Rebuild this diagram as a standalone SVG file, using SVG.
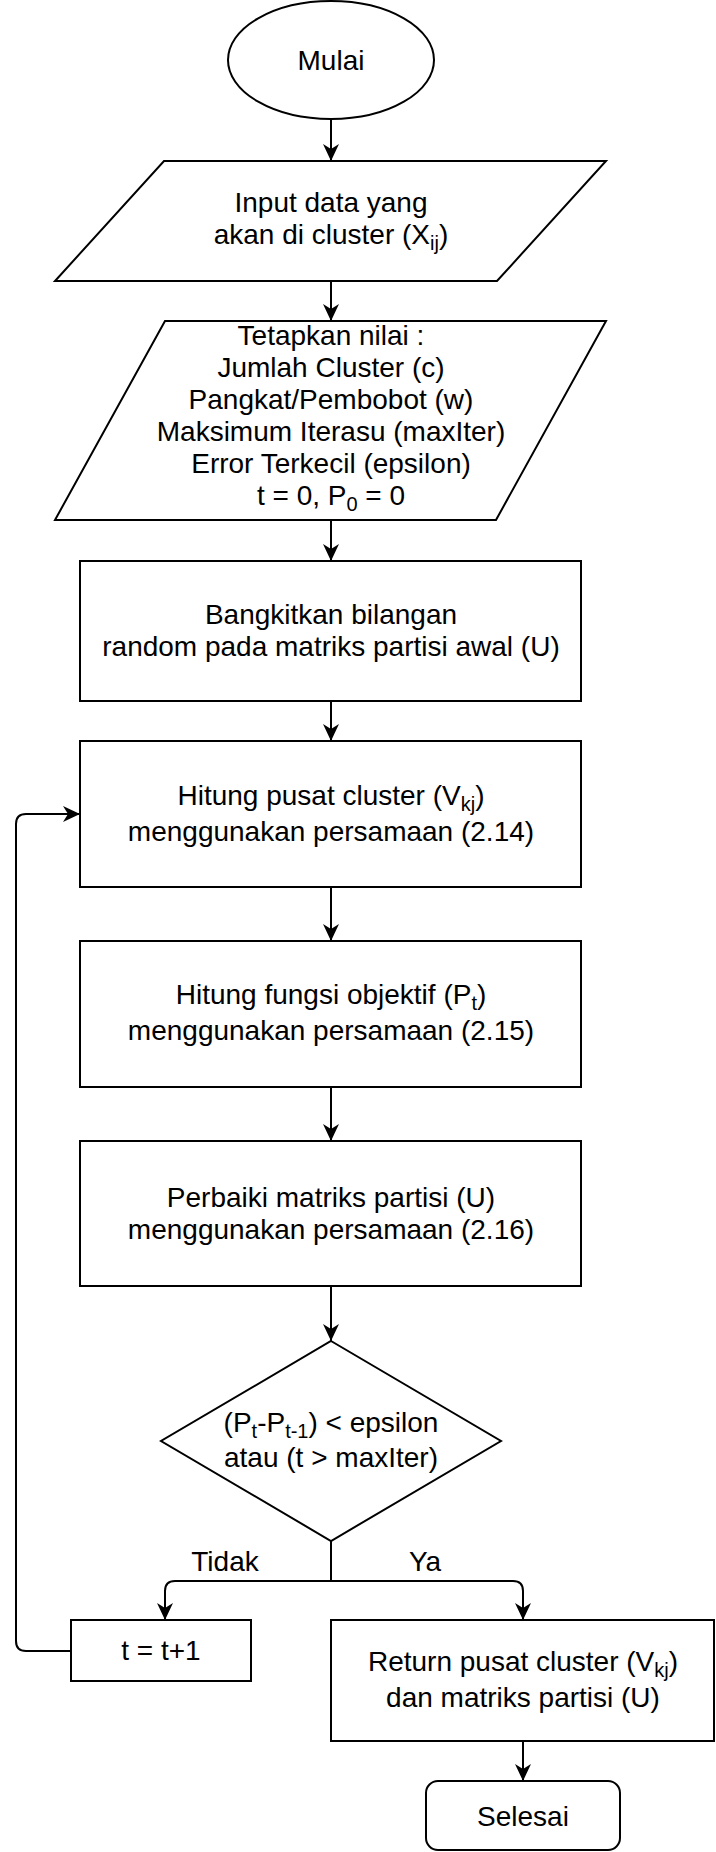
<svg xmlns="http://www.w3.org/2000/svg" width="716" height="1852" viewBox="0 0 716 1852">
<style>
.s{fill:#fff;stroke:#000;stroke-width:2}
.c{fill:none;stroke:#000;stroke-width:2}
text{font-family:"Liberation Sans",Arial,Helvetica,sans-serif;font-size:28px;fill:#000;text-anchor:middle}
.sub{font-size:20px}
</style>
<defs>
<marker id="arr" markerUnits="userSpaceOnUse" viewBox="0 0 17 16" refX="17" refY="8" markerWidth="17" markerHeight="16" orient="auto">
<path d="M0,0 L17,8 L0,16 L5,8 Z" fill="#000"/>
</marker>
</defs>
<rect width="716" height="1852" fill="#fff"/>
<g id="connectors">
<path class="c" d="M331,120 L331,161" marker-end="url(#arr)"/>
<path class="c" d="M331,281 L331,321" marker-end="url(#arr)"/>
<path class="c" d="M331,520 L331,561" marker-end="url(#arr)"/>
<path class="c" d="M331,701 L331,741" marker-end="url(#arr)"/>
<path class="c" d="M331,887 L331,941" marker-end="url(#arr)"/>
<path class="c" d="M331,1087 L331,1141" marker-end="url(#arr)"/>
<path class="c" d="M331,1286 L331,1341" marker-end="url(#arr)"/>
<path class="c" d="M331,1541 L331,1581 L175,1581 Q165,1581 165,1591 L165,1620" marker-end="url(#arr)"/>
<path class="c" d="M331,1541 L331,1581 L513,1581 Q523,1581 523,1591 L523,1620" marker-end="url(#arr)"/>
<path class="c" d="M71,1651 L26,1651 Q16,1651 16,1641 L16,824 Q16,814 26,814 L80,814" marker-end="url(#arr)"/>
<path class="c" d="M523,1741 L523,1781" marker-end="url(#arr)"/>
<text x="225" y="1571">Tidak</text>
<text x="425" y="1571">Ya</text>
</g>
<g id="mulai">
<ellipse class="s" cx="331" cy="60" rx="103" ry="59"/>
<text x="331" y="70">Mulai</text>
</g>
<g id="input">
<polygon class="s" points="164,161 606,161 497,281 55,281"/>
<text x="331" y="212">Input data yang</text>
<text x="331" y="244">akan di cluster (X<tspan class="sub" dy="6">ij</tspan><tspan dy="-6">)</tspan></text>
</g>
<g id="tetapkan">
<polygon class="s" points="165,321 606,321 496,520 55,520"/>
<text x="331" y="345">Tetapkan nilai :</text>
<text x="331" y="377">Jumlah Cluster (c)</text>
<text x="331" y="409">Pangkat/Pembobot (w)</text>
<text x="331" y="441">Maksimum Iterasu (maxIter)</text>
<text x="331" y="473">Error Terkecil (epsilon)</text>
<text x="331" y="505">t = 0, P<tspan class="sub" dy="6">0</tspan><tspan dy="-6"> = 0</tspan></text>
</g>
<g id="bangkitkan">
<rect class="s" x="80" y="561" width="501" height="140"/>
<text x="331" y="624">Bangkitkan bilangan</text>
<text x="331" y="656">random pada matriks partisi awal (U)</text>
</g>
<g id="hitung-pusat">
<rect class="s" x="80" y="741" width="501" height="146"/>
<text x="331" y="805">Hitung pusat cluster (V<tspan class="sub" dy="6">kj</tspan><tspan dy="-6">)</tspan></text>
<text x="331" y="841">menggunakan persamaan (2.14)</text>
</g>
<g id="hitung-fungsi">
<rect class="s" x="80" y="941" width="501" height="146"/>
<text x="331" y="1004">Hitung fungsi objektif (P<tspan class="sub" dy="6">t</tspan><tspan dy="-6">)</tspan></text>
<text x="331" y="1040">menggunakan persamaan (2.15)</text>
</g>
<g id="perbaiki">
<rect class="s" x="80" y="1141" width="501" height="145"/>
<text x="331" y="1207">Perbaiki matriks partisi (U)</text>
<text x="331" y="1239">menggunakan persamaan (2.16)</text>
</g>
<g id="keputusan">
<polygon class="s" points="331,1341 501,1441 331,1541 161,1441"/>
<text x="331" y="1432">(P<tspan class="sub" dy="6">t</tspan><tspan dy="-6">-P</tspan><tspan class="sub" dy="6">t-1</tspan><tspan dy="-6">) &lt; epsilon</tspan></text>
<text x="331" y="1467">atau (t &gt; maxIter)</text>
</g>
<g id="increment">
<rect class="s" x="71" y="1620" width="180" height="61"/>
<text x="161" y="1660">t = t+1</text>
</g>
<g id="return">
<rect class="s" x="331" y="1620" width="383" height="121"/>
<text x="523" y="1671">Return pusat cluster (V<tspan class="sub" dy="6">kj</tspan><tspan dy="-6">)</tspan></text>
<text x="523" y="1707">dan matriks partisi (U)</text>
</g>
<g id="selesai">
<rect class="s" x="426" y="1781" width="194" height="69" rx="12" ry="12"/>
<text x="523" y="1826">Selesai</text>
</g>
</svg>
